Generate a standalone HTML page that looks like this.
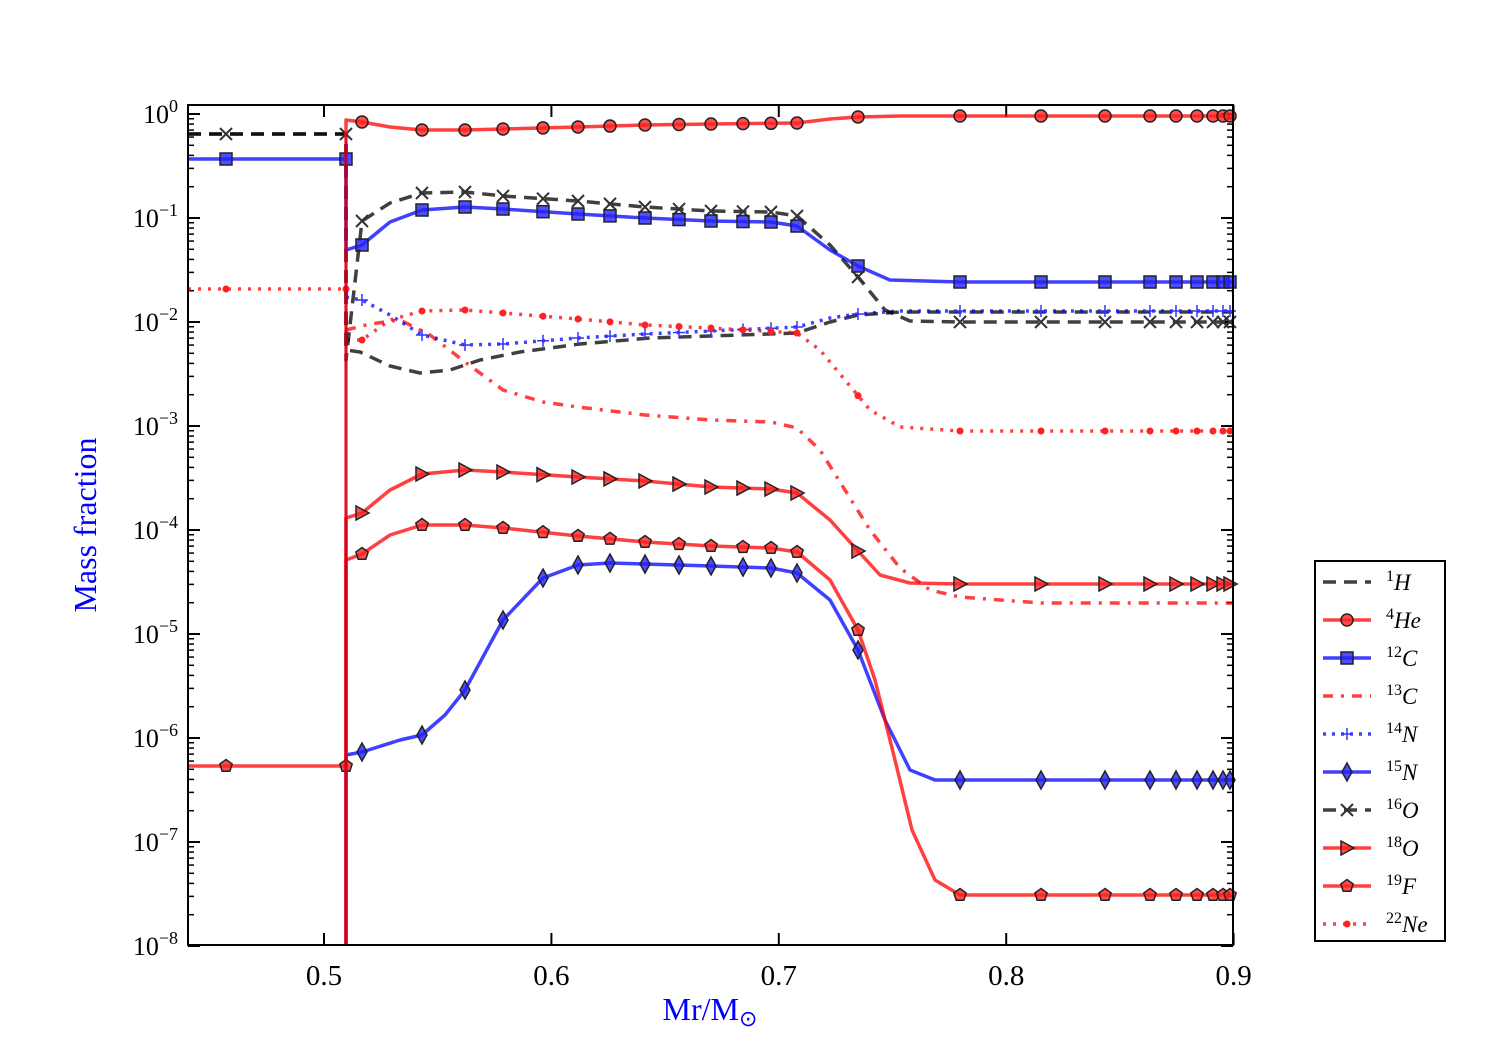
<!DOCTYPE html>
<html><head><meta charset="utf-8"><style>
body{margin:0;background:#fff;width:1500px;height:1050px;overflow:hidden}
svg text{font-family:"Liberation Serif",serif}
</style></head><body>
<svg id="s" width="1500" height="1050" xmlns="http://www.w3.org/2000/svg"></svg>
<script>
const s=document.getElementById('s');let h='';
const L=188,R=1233,T=105,B=945;
const yd=d=>114+(0-d)*104.0;
for(let e=0;e>=-8;e--){const y=yd(e);
 h+=`<line x1="${L}" y1="${y}" x2="${L+12}" y2="${y}" stroke="#000" stroke-width="2"/>`;
 h+=`<line x1="${R}" y1="${y}" x2="${R-12}" y2="${y}" stroke="#000" stroke-width="2"/>`;
 h+=`<text x="${L-10}" y="${y+9}" font-size="26" text-anchor="end">10<tspan dy="-11" font-size="18">${e==0?'0':'−'+(-e)}</tspan></text>`;
 if(e>-8)for(let k=2;k<=9;k++){const yy=y+104-104*Math.log10(k);if(yy<T)continue;
  h+=`<line x1="${L}" y1="${yy}" x2="${L+6}" y2="${yy}" stroke="#000" stroke-width="1.5"/><line x1="${R}" y1="${yy}" x2="${R-6}" y2="${yy}" stroke="#000" stroke-width="1.5"/>`;}
 if(e==0){for(let k=2;k<=9;k++){const yy=y-104*Math.log10(k);if(yy>T)h+=`<line x1="${L}" y1="${yy}" x2="${L+6}" y2="${yy}" stroke="#000" stroke-width="1.5"/>`;}}
}
const xs=v=>324+(v-0.5)*2274;
[0.5,0.6,0.7,0.8,0.9].forEach(v=>{const x=xs(v);
 h+=`<line x1="${x}" y1="${B}" x2="${x}" y2="${B-12}" stroke="#000" stroke-width="2"/><line x1="${x}" y1="${T}" x2="${x}" y2="${T+12}" stroke="#000" stroke-width="2"/>`;
 h+=`<text x="${x}" y="${B+40}" font-size="29" text-anchor="middle">${v}</text>`;});
h+=`<text x="710" y="1020" font-size="32" fill="#00f" text-anchor="middle">Mr/M<tspan font-size="22" dy="6">⊙</tspan></text>`;
h+=`<text transform="translate(96,525) rotate(-90)" font-size="32" fill="#00f" text-anchor="middle">Mass fraction</text>`;
const MX=[362,422,465,503,543,578,610,645,679,711,743,771,797,858,960,1041,1105,1150,1176,1197,1213,1223,1230];
function interp(pts,x){for(let i=0;i<pts.length-1;i++){if(x>=pts[i][0]&&x<=pts[i+1][0]){const t=(x-pts[i][0])/(pts[i+1][0]-pts[i][0]);return pts[i][1]+t*(pts[i+1][1]-pts[i][1]);}}return pts[pts.length-1][1];}
function marker(m,x,y,fc){const st=`fill="${fc}" fill-opacity="0.8" stroke="#222" stroke-width="1.5"`;
 if(m=='o')return `<circle cx="${x}" cy="${y}" r="6" ${st}/>`;
 if(m=='s')return `<rect x="${x-6}" y="${y-6}" width="12" height="12" ${st}/>`;
 if(m=='d')return `<polygon points="${x},${y-9} ${x+5},${y} ${x},${y+9} ${x-5},${y}" ${st}/>`;
 if(m=='>')return `<polygon points="${x-6},${y-7} ${x+7},${y} ${x-6},${y+7}" ${st}/>`;
 if(m=='p'){let p=[];for(let i=0;i<5;i++){const a=-Math.PI/2+i*2*Math.PI/5;p.push((x+6.5*Math.cos(a))+','+(y+6.5*Math.sin(a)));}return `<polygon points="${p.join(' ')}" ${st}/>`;}
 if(m=='x')return `<path d="M${x-6},${y-6}L${x+6},${y+6}M${x-6},${y+6}L${x+6},${y-6}" stroke="#333" stroke-width="2"/>`;
 if(m=='+')return `<path d="M${x-6},${y}L${x+6},${y}M${x},${y-6}L${x},${y+6}" stroke="#33f" stroke-width="1.5"/>`;
 if(m=='.')return `<circle cx="${x}" cy="${y}" r="3.5" fill="#f22"/>`;return '';}
function series(pts,col,dash,m,fc,left,lm){
 h+=`<polyline points="${pts.map(p=>p.join(',')).join(' ')}" fill="none" stroke="${col}" stroke-opacity="0.75" stroke-width="3.5" ${dash?`stroke-dasharray="${dash}"`:''} stroke-linejoin="round"/>`;
 if(m){if(lm)[226,346].forEach(x=>h+=marker(m,x,left,fc));
  MX.forEach(x=>{h+=marker(m,x,interp(pts,x),fc);});}}
series([[188,134],[346,134],[346,350],[360,352],[390,366],[420,373],[450,370],[480,360],[520,352],[580,344],[650,338],[711,336],[797,333],[830,322],[858,315],[900,312],[1233,312]],'#000','13,8',null);
series([[346,330],[370,324],[400,320],[430,335],[465,362],[503,390],[543,402],[578,407],[645,415],[711,420],[771,422],[797,428],[820,450],[845,490],[870,530],[900,568],[930,590],[960,597],[1041,603],[1233,603]],'#f00','10,8,3,8',null);
series([[346,297],[362,300],[390,315],[422,335],[465,345],[503,344],[578,338],[645,334],[711,331],[797,327],[830,318],[858,314],[900,311],[1233,311]],'#00f','3,6','+');
series([[188,289],[346,289],[346,340],[362,340],[390,320],[422,311],[465,310],[503,313],[578,319],[645,325],[711,328],[797,333],[820,350],[845,380],[870,410],[900,427],[960,431],[1233,431]],'#f00','3,7','.',null,289,true);
series([[188,134],[346,134],[346,360],[362,221],[390,203],[422,193],[465,192],[503,196],[578,201],[645,207],[711,211],[771,212],[797,216],[830,245],[858,277],[885,310],[910,321],[960,322],[1233,322]],'#000','13,8','x',null,134,true);
series([[188,159],[346,159],[346,250],[362,245],[390,222],[422,210],[465,207],[503,209],[578,214],[645,218],[711,221],[771,222],[797,226],[830,250],[858,266],[890,280],[960,282],[1233,282]],'#00f','', 's','#22f',159,true);
series([[346,945],[346,755],[362,752],[400,740],[422,735],[445,715],[465,690],[503,620],[543,578],[578,565],[610,563],[711,566],[771,568],[797,573],[830,600],[858,650],[885,720],[910,770],[935,780],[1233,780]],'#00f','', 'd','#22f');
series([[346,945],[346,518],[362,513],[390,490],[422,474],[465,470],[503,472],[578,477],[645,481],[711,487],[771,489],[797,493],[830,520],[858,551],[880,575],[910,583],[960,584],[1233,584]],'#f00','', '>','#f22');
series([[188,766],[346,766],[346,560],[362,554],[390,535],[422,525],[465,525],[503,528],[578,536],[645,542],[711,546],[771,548],[797,552],[830,580],[858,630],[875,680],[895,760],[912,830],[935,880],[960,895],[1233,895]],'#f00','', 'p','#f22',766,true);
series([[346,945],[346,120],[362,122],[390,127],[422,130],[465,130],[503,129],[578,127],[645,125],[711,124],[797,123],[830,119],[858,117],[900,116],[1233,116]],'#f00','', 'o','#f22');
h+=`<line x1="346" y1="134" x2="346" y2="945" stroke="#a0004a" stroke-opacity="0.6" stroke-width="2"/>`;
h+=`<rect x="${L}" y="${T}" width="${R-L}" height="${B-T}" fill="none" stroke="#000" stroke-width="2"/>`;
h+=`<rect x="1315" y="561" width="130" height="380" fill="#fff" stroke="#000" stroke-width="2"/>`;
const lg=[['1','H','#000','13,8',null,null],['4','He','#f00','','o','#f22'],['12','C','#00f','','s','#22f'],['13','C','#f00','10,8,3,8',null],['14','N','#00f','3,6','+'],['15','N','#00f','','d','#22f'],['16','O','#000','13,8','x'],['18','O','#f00','','>','#f22'],['19','F','#f00','','p','#f22'],['22','Ne','#f00','3,7','.']];
lg.forEach((g,i)=>{const y=582+i*38;
 h+=`<line x1="1323" y1="${y}" x2="1371" y2="${y}" stroke="${g[2]}" stroke-opacity="0.75" stroke-width="3.5" ${g[3]?`stroke-dasharray="${g[3]}"`:''}/>`;
 if(g[4])h+=marker(g[4],1347,y,g[5]);
 h+=`<text x="1386" y="${y+8}" font-size="23" font-style="italic"><tspan font-size="16" font-style="normal" dy="-9">${g[0]}</tspan><tspan dy="9">${g[1]}</tspan></text>`;});
s.innerHTML=h;
</script>
</body></html>
